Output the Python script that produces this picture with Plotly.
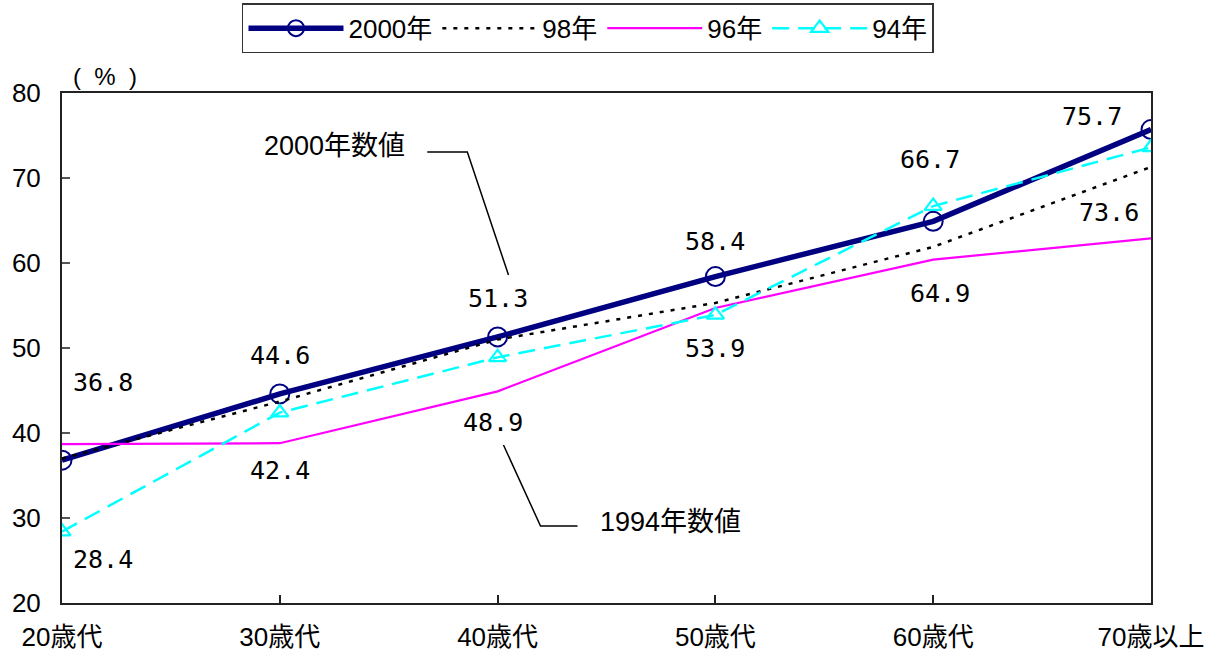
import plotly.graph_objects as go

# Age groups and survey results (%)
categories = ["20歳代", "30歳代", "40歳代", "50歳代", "60歳代", "70歳以上"]
y2000 = [36.8, 44.6, 51.3, 58.4, 64.9, 75.7]
y1998 = [37.0, 43.7, 51.0, 55.3, 61.9, 71.3]
y1996 = [38.7, 38.8, 44.9, 54.7, 60.4, 62.9]
y1994 = [28.4, 42.4, 48.9, 53.9, 66.7, 73.6]

# label offsets (px) for the value labels of 2000 and 1994
off2000 = [(41, 78), (0, 38), (0, 38), (0, 35), (7, -72), (-59, 13)]
off1994 = [(41, -28), (0, -58), (-5, -65), (0, -34), (-3, 47), (-42, -65)]

xi = list(range(len(categories)))
base_font = "Liberation Sans, Noto Sans CJK JP, sans-serif"
label_font = dict(family="DejaVu Sans Mono, monospace", size=25, color="black")

fig = go.Figure()
fig.add_trace(go.Scatter(
    x=xi, y=y2000, name="2000年", mode="lines+markers",
    line=dict(color="#000080", width=5.5),
    marker=dict(symbol="circle-open", size=19, color="#000080", line=dict(width=2)),
))
fig.add_trace(go.Scatter(
    x=xi, y=y1998, name="98年", mode="lines",
    line=dict(color="black", width=2.5, dash="4px,7px"),
))
fig.add_trace(go.Scatter(
    x=xi, y=y1996, name="96年", mode="lines",
    line=dict(color="#FF00FF", width=2.2),
))
fig.add_trace(go.Scatter(
    x=xi, y=y1994, name="94年", mode="lines+markers",
    line=dict(color="#00FFFF", width=2.5, dash="17px,9px"),
    marker=dict(symbol="triangle-up-open", size=15, color="#00FFFF", line=dict(width=2.2)),
))

annotations = []
for x, v, (dx, dy) in zip(xi, y2000, off2000):
    annotations.append(dict(x=x, y=v, text=f"{v:.1f}", showarrow=False,
                            xshift=dx, yshift=dy, font=label_font))
for x, v, (dx, dy) in zip(xi, y1994, off1994):
    annotations.append(dict(x=x, y=v, text=f"{v:.1f}", showarrow=False,
                            xshift=dx, yshift=dy, font=label_font))

# callout texts
annotations.append(dict(x=1.677, y=73.06, text="2000年数値", showarrow=False,
                        xanchor="right", xshift=-20, yshift=6,
                        font=dict(family=base_font, size=27, color="black")))
annotations.append(dict(x=2.367, y=29.06, text="1994年数値", showarrow=False,
                        xanchor="left", xshift=20, yshift=4,
                        font=dict(family=base_font, size=27, color="black")))
# unit label
annotations.append(dict(x=0, y=80, xref="x", yref="y",
                        text="(\u00a0\u00a0%\u00a0\u00a0)", showarrow=False,
                        xanchor="left", yanchor="middle", xshift=9, yshift=17,
                        font=dict(family="Liberation Sans", size=24, color="black")))

shapes = [
    dict(type="path", path="M 1.677 73.06 L 1.861 73.06 L 2.050 58.59",
         line=dict(color="black", width=1.5), xref="x", yref="y"),
    dict(type="path", path="M 2.027 38.59 L 2.197 29.06 L 2.367 29.06",
         line=dict(color="black", width=1.5), xref="x", yref="y"),
]

fig.update_layout(
    width=1219, height=656,
    margin=dict(l=62, r=68, t=93, b=53, autoexpand=False),
    paper_bgcolor="white", plot_bgcolor="white",
    font=dict(family=base_font, size=25, color="black"),
    showlegend=True,
    legend=dict(orientation="h", x=0.483, xanchor="center", y=1.176, yanchor="top",
                bordercolor="#333333", borderwidth=1.5, bgcolor="white",
                font=dict(family=base_font, size=26), itemwidth=95,
                tracegroupgap=0),
    annotations=annotations,
    shapes=shapes,
)
fig.update_xaxes(
    range=[0, 5], tickmode="array", tickvals=xi, ticktext=categories,
    showgrid=False, zeroline=False,
    showline=True, linecolor="#222222", linewidth=2, mirror=True,
    ticks="inside", ticklen=8, tickwidth=1.5, tickcolor="#222222",
    tickfont=dict(family=base_font, size=26), ticklabelstandoff=10,
)
fig.update_yaxes(
    range=[20, 80], dtick=10, tick0=20,
    showgrid=False, zeroline=False,
    showline=True, linecolor="#222222", linewidth=2, mirror=True,
    ticks="inside", ticklen=8, tickwidth=1.5, tickcolor="#555555",
    tickfont=dict(family=base_font, size=26), ticklabelstandoff=14,
)

fig.write_html("out.html")
